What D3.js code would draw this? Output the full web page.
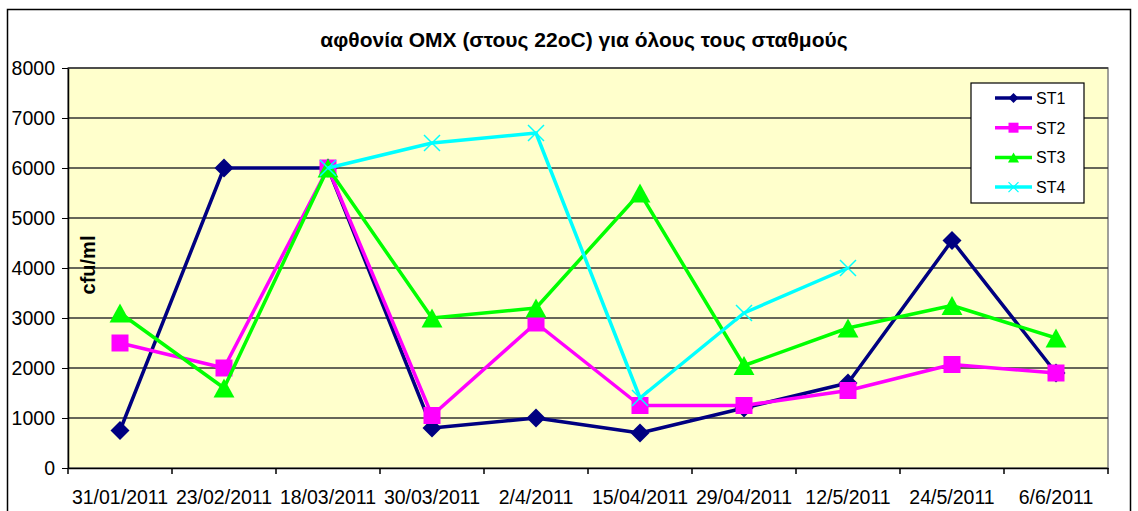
<!DOCTYPE html>
<html>
<head>
<meta charset="utf-8">
<script src="https://cdn.jsdelivr.net/npm/d3@7"></script>
<style>
  body { margin: 0; background: #fff; }
  svg { display: block; font-family: "Liberation Sans", Arial, sans-serif; }
</style>
</head>
<body>
<svg id="chart" width="1138" height="511"></svg>
<script>
// data
const dates = ["31/01/2011", "23/02/2011", "18/03/2011", "30/03/2011", "2/4/2011",
  "15/04/2011", "29/04/2011", "12/5/2011", "24/5/2011", "6/6/2011"];
const st1 = [750, 6000, 6000, 800, 1000, 700, 1200, 1700, 4550, 1900];
const st2 = [2500, 2000, 6000, 1050, 2900, 1250, 1250, 1550, 2070, 1900];
const st3 = [3100, 1600, 6000, 3000, 3200, 5500, 2050, 2800, 3250, 2600];
const st4 = [null, null, 6000, 6500, 6700, 1400, 3100, 4000, null, null];
const yTicks = [0, 1000, 2000, 3000, 4000, 5000, 6000, 7000, 8000];

const series = [
  { name: "ST1", values: st1, color: "#000080", marker: "diamond" },
  { name: "ST2", values: st2, color: "#FF00FF", marker: "square" },
  { name: "ST3", values: st3, color: "#00FF00", marker: "triangle" },
  { name: "ST4", values: st4, color: "#00FFFF", marker: "x" }
];

const svg = d3.select("#chart");
const margin = { top: 68, left: 68, right: 30, bottom: 43 };
const plotW = 1040, plotH = 400;

// outer frame
svg.append("rect")
  .attr("x", 7.5).attr("y", 9.5)
  .attr("width", 1123).attr("height", 520)
  .attr("fill", "#fff").attr("stroke", "#000").attr("stroke-width", 1.5);

// title
svg.append("text")
  .attr("x", 584).attr("y", 47)
  .attr("text-anchor", "middle")
  .style("font-size", "21px").style("font-weight", "bold")
  .text("αφθονία ΟΜΧ (στους 22oC) για όλους τους σταθμούς");

const g = svg.append("g").attr("transform", `translate(${margin.left},${margin.top})`);

const x = d3.scaleBand().domain(dates).range([0, plotW]).padding(0);
const y = d3.scaleLinear().domain([0, 8000]).range([plotH, 0]);
const cx = (i) => x(dates[i]) + x.bandwidth() / 2;

// plot background
g.append("rect").attr("width", plotW).attr("height", plotH)
  .attr("fill", "#FFFFCC").attr("stroke", "#808080").attr("stroke-width", 1.5);

// gridlines
g.selectAll(".grid").data(yTicks.filter((d) => d > 0)).enter()
  .append("line")
  .attr("x1", 0).attr("x2", plotW)
  .attr("y1", (d) => y(d)).attr("y2", (d) => y(d))
  .attr("stroke", "#333").attr("stroke-width", 1.5);

// y axis
const yAxis = g.append("g")
  .call(d3.axisLeft(y).tickValues(yTicks).tickFormat(d3.format("d"))
    .tickSize(6).tickSizeOuter(0).tickPadding(7));
yAxis.select(".domain").attr("stroke", "#000").attr("stroke-width", 1.5);
yAxis.selectAll("text").style("font-size", "19.5px").style("font-family", "Liberation Sans").attr("fill", "#000");

// x axis, labels centered in bands, ticks on band edges
const xAxis = g.append("g").attr("transform", `translate(0,${plotH})`)
  .call(d3.axisBottom(x).tickSize(0).tickPadding(22));
xAxis.select(".domain").attr("stroke", "#000").attr("stroke-width", 1.5);
xAxis.selectAll("text").style("font-size", "19.5px").style("font-family", "Liberation Sans").attr("fill", "#000");
g.selectAll(".xtick").data(d3.range(dates.length + 1)).enter()
  .append("line")
  .attr("x1", (i) => i * x.step()).attr("x2", (i) => i * x.step())
  .attr("y1", plotH).attr("y2", plotH + 6)
  .attr("stroke", "#000").attr("stroke-width", 1.5);

// y label
g.append("text")
  .attr("transform", `translate(27,197) rotate(-90)`)
  .attr("text-anchor", "middle")
  .style("font-size", "20px").style("font-weight", "bold")
  .text("cfu/ml");

function markerPath(type, s) {
  if (type === "diamond") return `M0,${-s}L${s},0L0,${s}L${-s},0Z`;
  if (type === "square") return `M${-s},${-s}H${s}V${s}H${-s}Z`;
  if (type === "triangle") return `M0,${-s}L${s * 1.1},${s}L${-s * 1.1},${s}Z`;
  return `M${-s},${-s}L${s},${s}M${-s},${s}L${s},${-s}`;
}
const markerSize = { diamond: 9.5, square: 8.5, triangle: 9.5, x: 8 };

const line = d3.line()
  .defined((d) => d != null)
  .x((d, i) => cx(i))
  .y((d) => y(d));

series.forEach((s) => {
  g.append("path")
    .attr("d", line(s.values))
    .attr("fill", "none")
    .attr("stroke", s.color)
    .attr("stroke-width", 3.5)
    .attr("stroke-linejoin", "round");
  g.selectAll(null)
    .data(s.values.map((v, i) => ({ v, i })).filter((d) => d.v != null))
    .enter()
    .append("path")
    .attr("transform", (d) => `translate(${cx(d.i)},${y(d.v)})`)
    .attr("d", markerPath(s.marker, markerSize[s.marker]))
    .attr("fill", s.marker === "x" ? "none" : s.color)
    .attr("stroke", s.color)
    .attr("stroke-width", s.marker === "x" ? 1.5 : 0);
});

// legend
const leg = svg.append("g").attr("transform", "translate(971,83)");
leg.append("rect").attr("width", 113).attr("height", 120)
  .attr("fill", "#fff").attr("stroke", "#000").attr("stroke-width", 1.2);
series.forEach((s, i) => {
  const ly = 15 + i * 29.7;
  leg.append("line").attr("x1", 24).attr("x2", 61).attr("y1", ly).attr("y2", ly)
    .attr("stroke", s.color).attr("stroke-width", 3.5);
  leg.append("path")
    .attr("transform", `translate(42.5,${ly})`)
    .attr("d", markerPath(s.marker, 5))
    .attr("fill", s.marker === "x" ? "none" : s.color)
    .attr("stroke", s.color)
    .attr("stroke-width", s.marker === "x" ? 1.2 : 0);
  leg.append("text").attr("x", 65).attr("y", ly + 6)
    .style("font-size", "16px").text(s.name);
});
</script>
</body>
</html>
